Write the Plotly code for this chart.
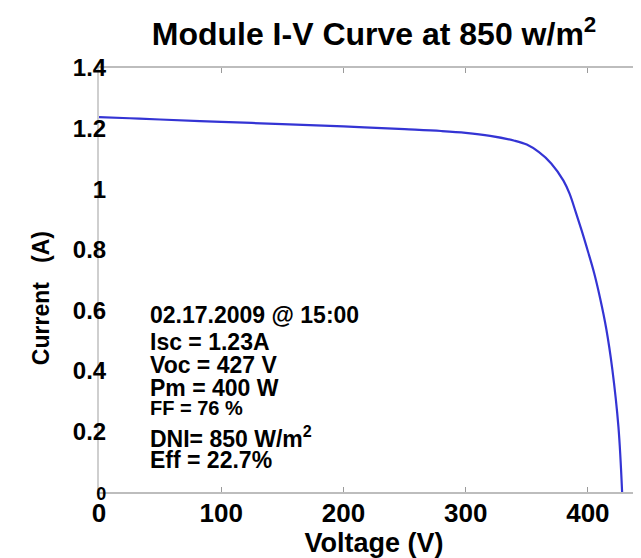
import plotly.graph_objects as go

# Data
voltage = [0, 25, 50, 100, 150, 200, 250, 280, 300, 320, 340, 350, 360, 370,
           380, 385, 390, 395, 400, 405, 410, 415, 420, 425, 428]
current = [1.238, 1.234, 1.230, 1.222, 1.215, 1.207, 1.198, 1.192, 1.186, 1.176,
           1.160, 1.147, 1.122, 1.085, 1.028, 0.985, 0.925, 0.862, 0.795, 0.725,
           0.640, 0.540, 0.405, 0.215, 0.0]

x_tickvals = [0, 100, 200, 300, 400]
x_ticktext = ["0", "100", "200", "300", "400"]
y_tickvals = [0, 0.2, 0.4, 0.6, 0.8, 1.0, 1.2, 1.4]
y_ticktext = ["<span style='font-size:18px'>0</span>", "0.2", "0.4", "0.6", "0.8", "1", "1.2", "1.4"]

info_lines = ["02.17.2009 @ 15:00", "Isc = 1.23A", "Voc = 427 V", "Pm = 400 W",
              "FF = 76 %", "DNI= 850 W/m<sup>2</sup>", "Eff = 22.7%"]
info_y = [0.585, 0.495, 0.419, 0.344, 0.278, 0.182, 0.106]
info_size = [23, 23, 23, 23, 20, 23, 23]

FONT = "Liberation Sans, Arial, sans-serif"

fig = go.Figure()
fig.add_trace(go.Scatter(x=voltage, y=current, mode="lines",
                         line=dict(color="#3434d4", width=2.2, shape="spline"),
                         showlegend=False, hoverinfo="skip"))

for txt, yv, sz in zip(info_lines, info_y, info_size):
    fig.add_annotation(x=40, y=yv, xref="x", yref="y", text=txt, showarrow=False,
                       xanchor="left", yanchor="middle",
                       font=dict(family=FONT, size=sz, color="black", weight="bold"))

# y-axis title (placed as a rotated annotation so it sits where the reference has it)
fig.add_annotation(x=0, xref="paper", xshift=-58, y=0.64, yref="y",
                   text="Current\u00a0\u00a0\u00a0(A)", textangle=-90, showarrow=False,
                   xanchor="center", yanchor="middle",
                   font=dict(family=FONT, size=23, color="black", weight="bold"))

fig.update_layout(
    width=641, height=558,
    margin=dict(l=91, r=0, t=60, b=74, autoexpand=False),
    paper_bgcolor="white", plot_bgcolor="white",
    title=dict(text="Module I-V Curve at 850 w/m<sup>2</sup>", x=0.5, xref="paper",
               y=1 - 26 / 558, yref="container", yanchor="middle", xanchor="center",
               font=dict(family=FONT, size=32, color="black", weight="bold")),
)

fig.update_xaxes(range=[0, 450], tickvals=x_tickvals, ticktext=x_ticktext,
                 showgrid=False, zeroline=False, automargin=False,
                 showline=True, linecolor="#bdbdbd", linewidth=2, mirror="ticks",
                 ticks="inside", ticklen=5, tickcolor="#9a9a9a", tickwidth=1,
                 ticklabelstandoff=-3,
                 tickfont=dict(family=FONT, size=26, color="black", weight="bold"),
                 title=dict(text="Voltage (V)", standoff=0,
                            font=dict(family=FONT, size=27, color="black", weight="bold")))

fig.update_yaxes(range=[0, 1.4], tickvals=y_tickvals, ticktext=y_ticktext,
                 showgrid=False, zeroline=False, automargin=False,
                 showline=True, linecolor="#cfcfcf", linewidth=2,
                 ticks="", ticklabelstandoff=-14,
                 tickfont=dict(family=FONT, size=24, color="black", weight="bold"))

fig.write_html("out.html")
